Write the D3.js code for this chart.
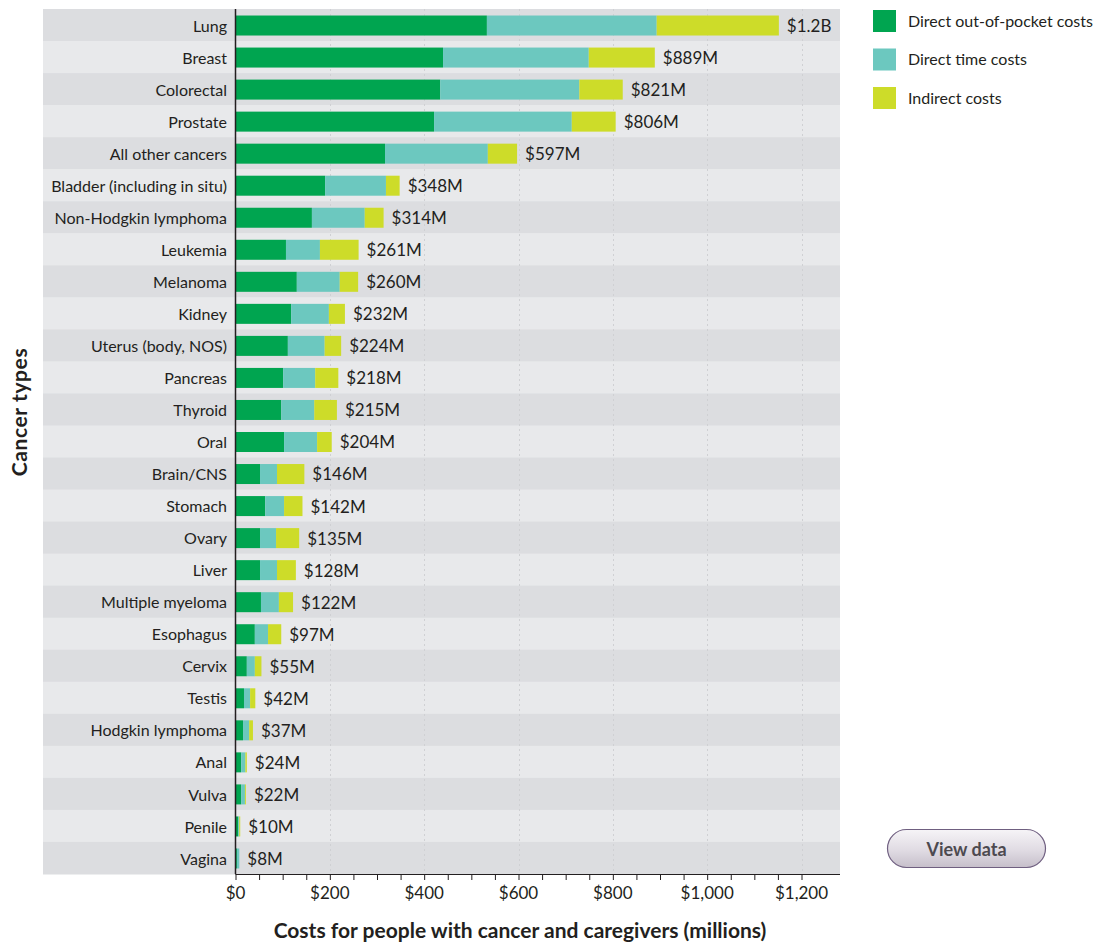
<!DOCTYPE html>
<html>
<head>
<meta charset="utf-8">
<script src="https://cdn.jsdelivr.net/npm/d3@7"></script>
<style>
  html, body { margin: 0; padding: 0; background: #ffffff; }
  svg { display: block; font-family: Lato, "Open Sans", sans-serif; }
</style>
</head>
<body>
<svg id="chart" width="1095" height="942"></svg>
<script>
// Annual costs (millions of dollars) by cancer type, split into three components
const categories = [
  "Lung", "Breast", "Colorectal", "Prostate", "All other cancers",
  "Bladder (including in situ)", "Non-Hodgkin lymphoma", "Leukemia", "Melanoma",
  "Kidney", "Uterus (body, NOS)", "Pancreas", "Thyroid", "Oral", "Brain/CNS",
  "Stomach", "Ovary", "Liver", "Multiple myeloma", "Esophagus", "Cervix",
  "Testis", "Hodgkin lymphoma", "Anal", "Vulva", "Penile", "Vagina"
];
const outOfPocket = [533, 440, 434, 421, 317, 190, 162, 107, 130, 118, 111, 101, 97, 103, 52, 63, 52, 52, 54, 41, 24, 18, 16, 12, 12, 6, 3];
const timeCosts   = [360, 309, 295, 292, 218, 129, 112,  72,  91,  80,  78,  68, 70,  70, 36, 40, 34, 36, 38, 28, 17, 13, 13,  9,  8, 2, 5];
const indirect    = [259, 140,  92,  93,  62,  29,  40,  82,  39,  34,  35,  49, 48,  31, 58, 39, 49, 40, 30, 28, 14, 11,  8,  3,  2, 2, 0];
const totalLabels = ["$1.2B", "$889M", "$821M", "$806M", "$597M", "$348M", "$314M", "$261M", "$260M",
  "$232M", "$224M", "$218M", "$215M", "$204M", "$146M", "$142M", "$135M", "$128M", "$122M",
  "$97M", "$55M", "$42M", "$37M", "$24M", "$22M", "$10M", "$8M"];
const seriesNames = ["Direct out-of-pocket costs", "Direct time costs", "Indirect costs"];
const xTicks = [0, 200, 400, 600, 800, 1000, 1200];

const colors = ["#00a550", "#6cc8bf", "#cddc29"];
const textColor = "#231f20";

const svg = d3.select("#chart");

const bandLeft = 43, bandRight = 840;
const x = d3.scaleLinear().domain([0, 1200]).range([235.5, 801.5]);
const y = d3.scaleBand().domain(categories).range([9, 874]).padding(0);

const rows = categories.map((c, i) => ({
  cat: c, label: totalLabels[i],
  v: [outOfPocket[i], timeCosts[i], indirect[i]]
}));

// Alternating row backgrounds
svg.append("g").selectAll("rect").data(categories).join("rect")
  .attr("x", bandLeft).attr("width", bandRight - bandLeft)
  .attr("y", d => y(d)).attr("height", y.bandwidth() + 0.5)
  .attr("fill", (d, i) => i % 2 === 0 ? "#dcdde0" : "#e8e9eb");

// Dotted vertical gridlines
svg.append("g").selectAll("line").data(xTicks.slice(1)).join("line")
  .attr("x1", d => Math.round(x(d)) + 0.5).attr("x2", d => Math.round(x(d)) + 0.5)
  .attr("y1", 9).attr("y2", 874)
  .attr("stroke", "#cfd0d3").attr("stroke-width", 1)
  .attr("stroke-dasharray", "2,3");

// Stacked bars
const stack = d3.stack().keys([0, 1, 2]).value((d, k) => d.v[k]);
const layers = stack(rows);
const barH = 20, barOff = (y.bandwidth() - barH) / 2 + 0.5;
svg.append("g").selectAll("g").data(layers).join("g")
  .attr("fill", (d, i) => colors[i])
  .selectAll("rect").data(d => d).join("rect")
  .attr("x", d => x(d[0]))
  .attr("width", d => Math.max(0, x(d[1]) - x(d[0])))
  .attr("y", d => y(d.data.cat) + barOff)
  .attr("height", barH);

// Total labels at the end of each bar
svg.append("g").selectAll("text").data(rows).join("text")
  .attr("x", d => x(d3.sum(d.v)) + 8)
  .attr("y", d => y(d.cat) + y.bandwidth() / 2 + 1)
  .attr("dy", "0.35em")
  .attr("font-size", 17)
  .attr("fill", textColor)
  .text(d => d.label);

// Category labels
const catLabels = svg.append("g").selectAll("text").data(categories).join("text")
  .attr("x", 227)
  .attr("y", d => y(d) + y.bandwidth() / 2 + 1)
  .attr("dy", "0.35em")
  .attr("text-anchor", "end")
  .attr("font-size", 16)
  .attr("fill", textColor);
catLabels.each(function(d) {
  const t = d3.select(this);
  const m = d.match(/^(.*\()in situ(\))$/);
  if (m) {
    t.append("tspan").text(m[1]);
    t.append("tspan").attr("font-style", "italic").attr("font-family", "'Open Sans', 'Noto Sans', sans-serif")
      .attr("font-size", 15).text("in situ");
    t.append("tspan").text(m[2]);
  } else {
    t.text(d);
  }
});

// Y axis line
svg.append("line")
  .attr("x1", 235.5).attr("x2", 235.5).attr("y1", 9).attr("y2", 874)
  .attr("stroke", "#231f20").attr("stroke-width", 1.5);

// X axis with minor ticks every 50
const axisG = svg.append("g").attr("transform", "translate(0,874)");
axisG.append("line")
  .attr("x1", 235.5).attr("x2", bandRight).attr("y1", 0.5).attr("y2", 0.5)
  .attr("stroke", "#231f20").attr("stroke-width", 1.2);
axisG.append("g").call(
  d3.axisBottom(x).tickValues(d3.range(0, 1201, 50)).tickSize(6).tickFormat("")
).call(g => g.select(".domain").remove())
 .call(g => g.selectAll("line").attr("stroke", "#231f20"));
axisG.append("g").selectAll("text").data(xTicks).join("text")
  .attr("x", d => x(d)).attr("y", 25)
  .attr("text-anchor", "middle")
  .attr("font-size", 17)
  .attr("fill", textColor)
  .text(d => d3.format("$,")(d));

// Axis titles
svg.append("text")
  .attr("x", 520).attr("y", 938)
  .attr("text-anchor", "middle")
  .attr("font-size", 21).attr("font-weight", "bold")
  .attr("fill", textColor)
  .text("Costs for people with cancer and caregivers (millions)");
svg.append("text")
  .attr("transform", "translate(27,412) rotate(-90)")
  .attr("text-anchor", "middle")
  .attr("font-size", 21).attr("font-weight", "bold")
  .attr("letter-spacing", 0.6)
  .attr("fill", textColor)
  .text("Cancer types");

// Legend
const legend = svg.append("g").selectAll("g").data(seriesNames).join("g")
  .attr("transform", (d, i) => `translate(873,${10 + i * 38.5})`);
legend.append("rect").attr("width", 23).attr("height", 22)
  .attr("fill", (d, i) => colors[i]);
legend.append("text").attr("x", 35).attr("y", 11).attr("dy", "0.35em")
  .attr("font-size", 16).attr("fill", textColor)
  .text(d => d);

// "View data" button
const defs = svg.append("defs");
const grad = defs.append("linearGradient").attr("id", "btnGrad")
  .attr("x1", 0).attr("y1", 0).attr("x2", 0).attr("y2", 1);
grad.append("stop").attr("offset", "0%").attr("stop-color", "#f6f4f7");
grad.append("stop").attr("offset", "55%").attr("stop-color", "#e0dbe3");
grad.append("stop").attr("offset", "100%").attr("stop-color", "#c6bfca");
const btn = svg.append("g").attr("transform", "translate(887.5,829.5)");
btn.append("rect").attr("width", 158).attr("height", 38).attr("rx", 19)
  .attr("fill", "url(#btnGrad)").attr("stroke", "#6f5f80").attr("stroke-width", 1.2);
btn.append("text").attr("x", 79).attr("y", 20).attr("dy", "0.35em")
  .attr("text-anchor", "middle").attr("font-size", 18).attr("font-weight", "bold")
  .attr("fill", "#4d4a50").text("View data");
</script>
</body>
</html>
